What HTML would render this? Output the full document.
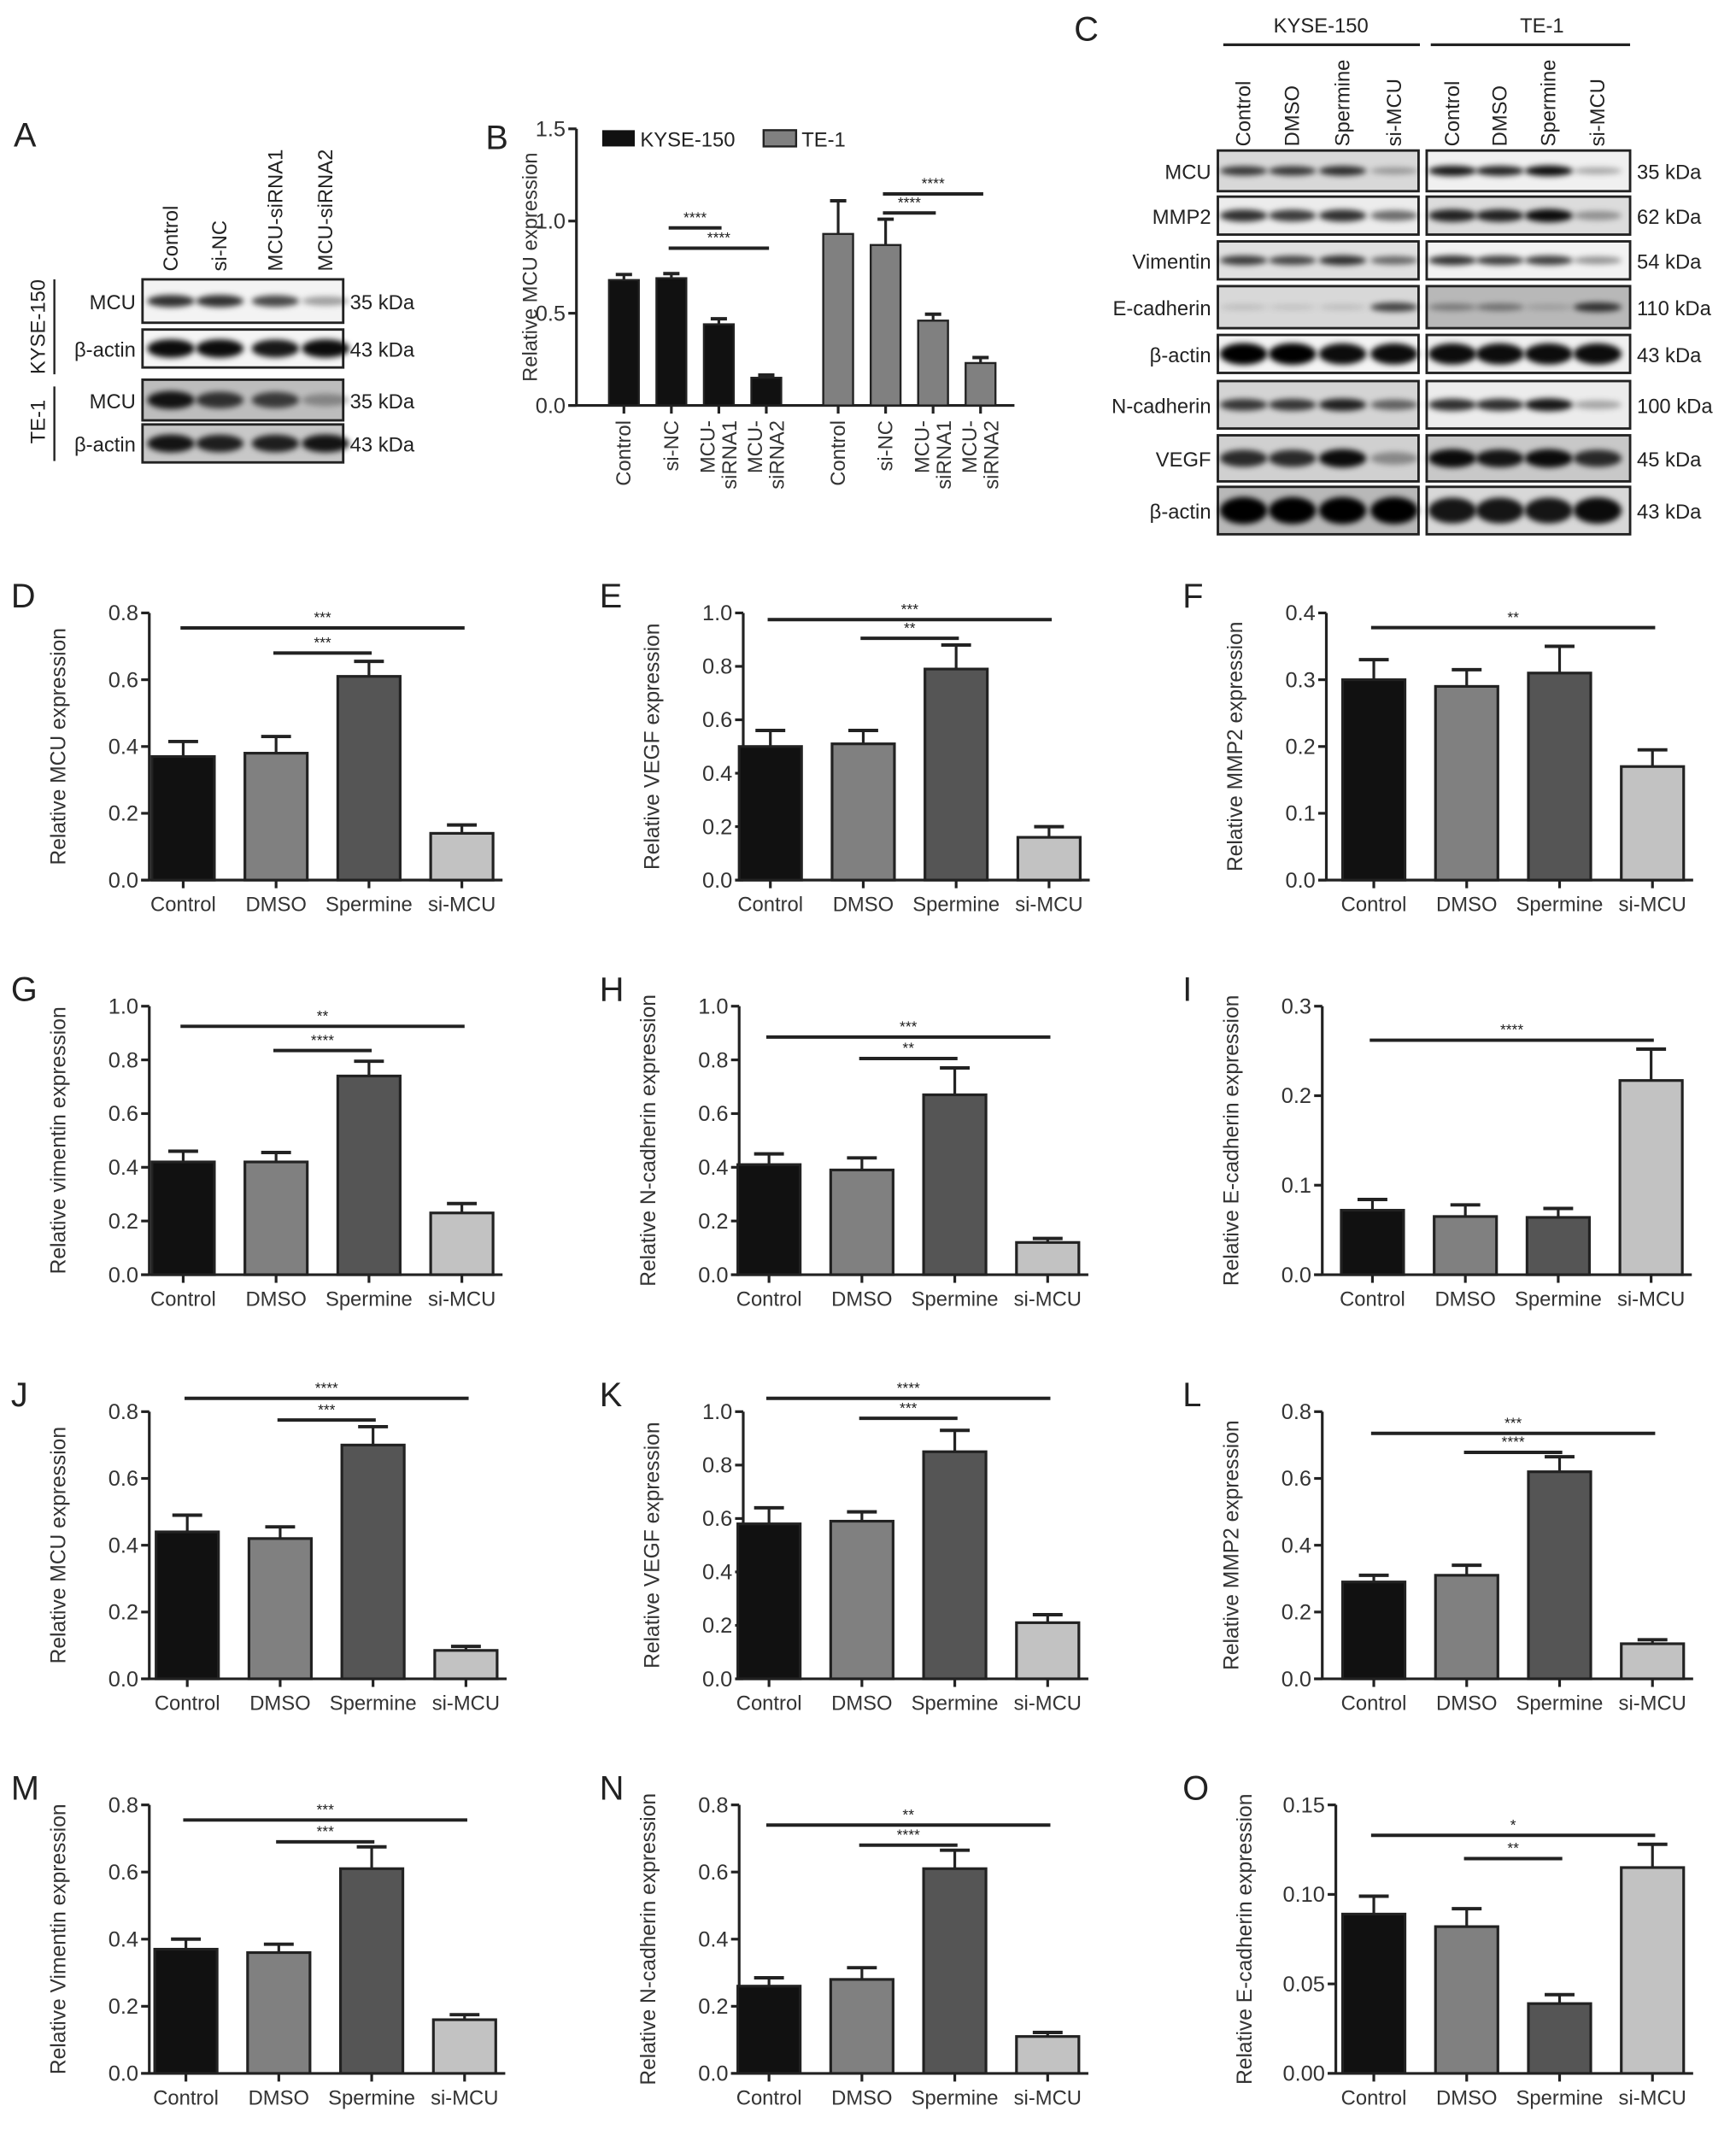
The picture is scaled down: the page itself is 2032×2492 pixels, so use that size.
<!DOCTYPE html>
<html><head><meta charset="utf-8">
<style>
html,body{margin:0;padding:0;background:#fff;}
svg{display:block;font-family:"Liberation Sans",Arial,sans-serif;}
</style></head>
<body>
<svg id="fig" width="2032" height="2492" viewBox="0 0 1280 1570" xmlns="http://www.w3.org/2000/svg">
<defs>
<filter id="blur" x="-30%" y="-100%" width="160%" height="300%"><feGaussianBlur stdDeviation="2.2"/></filter>
</defs>
</svg>
<script>
// ---------- chart data ----------
const categories = ['Control','DMSO','Spermine','si-MCU'];
const colors = ['#111111','#808080','#555555','#c2c2c2'];
const valsD=[0.37,0.38,0.61,0.14], errD=[0.045,0.05,0.045,0.025];
const valsE=[0.50,0.51,0.79,0.16], errE=[0.06,0.05,0.09,0.04];
const valsF=[0.30,0.29,0.31,0.17], errF=[0.03,0.025,0.04,0.025];
const valsG=[0.42,0.42,0.74,0.23], errG=[0.04,0.035,0.055,0.035];
const valsH=[0.41,0.39,0.67,0.12], errH=[0.04,0.045,0.10,0.015];
const valsI=[0.072,0.065,0.064,0.217], errI=[0.012,0.013,0.010,0.035];
const valsJ=[0.44,0.42,0.70,0.085], errJ=[0.05,0.035,0.055,0.012];
const valsK=[0.58,0.59,0.85,0.21], errK=[0.06,0.035,0.08,0.03];
const valsL=[0.29,0.31,0.62,0.105], errL=[0.02,0.03,0.045,0.012];
const valsM=[0.37,0.36,0.61,0.16], errM=[0.03,0.025,0.065,0.015];
const valsN=[0.26,0.28,0.61,0.11], errN=[0.025,0.035,0.055,0.012];
const valsO=[0.089,0.082,0.039,0.115], errO=[0.01,0.01,0.005,0.013];
const ticks08=['0.0','0.2','0.4','0.6','0.8'];
const ticks10=['0.0','0.2','0.4','0.6','0.8','1.0'];
const ticks04=['0.0','0.1','0.2','0.3','0.4'];
const ticks03=['0.0','0.1','0.2','0.3'];
const ticks015=['0.00','0.05','0.10','0.15'];
// panel B
const bCategories=['Control','si-NC','MCU-siRNA1','MCU-siRNA2'];
const bKyse=[0.68,0.69,0.44,0.15], bKyseErr=[0.03,0.025,0.03,0.015];
const bTe1=[0.93,0.87,0.46,0.23], bTe1Err=[0.18,0.14,0.035,0.03];
const bTicks=['0.0','0.5','1.0','1.5'];

const NS='http://www.w3.org/2000/svg';
const svg=document.getElementById('fig');
function el(tag,attrs,parent,text){
  const e=document.createElementNS(NS,tag);
  for(const k in attrs) e.setAttribute(k,attrs[k]);
  if(text!==undefined) e.textContent=text;
  (parent||svg).appendChild(e);
  return e;
}

function chart(o){
  const g=el('g',{});
  
  
  const maxV=parseFloat(o.ticks[o.ticks.length-1]);
  const y=v=>o.y0-(v/maxV)*(o.y0-o.yTop);
  const x=i=>o.first+i*68.5;
  const L=el('text',{x:o.lx,y:o.yTop-4,'font-size':25,fill:'#222'},g,o.id.toUpperCase());
  
  
  const ya=el('line',{x1:o.ax,y1:o.yTop,x2:o.ax,y2:o.y0,stroke:'#222','stroke-width':2},g);
  
  
  o.ticks.forEach((t,i)=>{
    const v=parseFloat(t);
    el('line',{x1:o.ax-6,y1:y(v),x2:o.ax,y2:y(v),stroke:'#222','stroke-width':2},g);
    const tl=el('text',{x:o.ax-8,y:y(v)+5.5,'font-size':16,'text-anchor':'end',fill:'#333'},g,t);
    
    
  });
  const xa=el('line',{x1:o.ax-6,y1:o.y0,x2:o.first+3*68.5+30,y2:o.y0,stroke:'#222','stroke-width':2},g);
  
  
  const yt=el('text',{x:0,y:0,'font-size':15.5,'text-anchor':'middle',fill:'#333',transform:`translate(${o.ax-62},${(o.y0+o.yTop)/2}) rotate(-90)`},g,o.ylabel);
  
  
  o.vals.forEach((v,i)=>{
    const cx=x(i), top=y(v), eTop=y(v+o.errs[i]);
    el('line',{x1:cx,y1:top,x2:cx,y2:eTop,stroke:'#222','stroke-width':2},g);
    el('line',{x1:cx-11,y1:eTop,x2:cx+11,y2:eTop,stroke:'#222','stroke-width':2.5},g);
    const b=el('rect',{x:cx-23,y:top,width:46,height:o.y0-top,fill:colors[i],stroke:'#222','stroke-width':2},g);
    
    
    el('line',{x1:cx,y1:o.y0,x2:cx,y2:o.y0+6,stroke:'#222','stroke-width':2},g);
    const xl=el('text',{x:cx,y:o.y0+23,'font-size':15,'text-anchor':'middle',fill:'#333'},g,categories[i]);
    
    
  });
  o.br.forEach(b=>{
    const yy=y(b[2]);
    const ln=el('line',{x1:x(b[0])-2,y1:yy,x2:x(b[1])+2,y2:yy,stroke:'#222','stroke-width':2.5},g);
    
    
    el('text',{x:(x(b[0])+x(b[1]))/2,y:yy-4,'font-size':11,'text-anchor':'middle',fill:'#222'},g,b[3]);
  });
}
const R1={yTop:452,y0:649}, R2={yTop:742,y0:940}, R3={yTop:1041,y0:1238}, R4={yTop:1331,y0:1529};
chart(Object.assign({id:'d',ax:110,first:135,lx:8,ticks:ticks08,vals:valsD,errs:errD,ylabel:'Relative MCU expression',br:[[0,3,0.755,'***'],[1,2,0.68,'***']]},R1));
chart(Object.assign({id:'e',ax:548,first:568,lx:442,ticks:ticks10,vals:valsE,errs:errE,ylabel:'Relative VEGF expression',br:[[0,3,0.975,'***'],[1,2,0.905,'**']]},R1));
chart(Object.assign({id:'f',ax:978,first:1013,lx:872,ticks:ticks04,vals:valsF,errs:errF,ylabel:'Relative MMP2 expression',br:[[0,3,0.378,'**']]},R1));
chart(Object.assign({id:'g',ax:110,first:135,lx:8,ticks:ticks10,vals:valsG,errs:errG,ylabel:'Relative vimentin expression',br:[[0,3,0.925,'**'],[1,2,0.835,'****']]},R2));
chart(Object.assign({id:'h',ax:545,first:567,lx:442,ticks:ticks10,vals:valsH,errs:errH,ylabel:'Relative N-cadherin expression',br:[[0,3,0.885,'***'],[1,2,0.805,'**']]},R2));
chart(Object.assign({id:'i',ax:975,first:1012,lx:872,ticks:ticks03,vals:valsI,errs:errI,ylabel:'Relative E-cadherin expression',br:[[0,3,0.262,'****']]},R2));
chart(Object.assign({id:'j',ax:110,first:138,lx:8,ticks:ticks08,vals:valsJ,errs:errJ,ylabel:'Relative MCU expression',br:[[0,3,0.84,'****'],[1,2,0.775,'***']]},R3));
chart(Object.assign({id:'k',ax:548,first:567,lx:442,ticks:ticks10,vals:valsK,errs:errK,ylabel:'Relative VEGF expression',br:[[0,3,1.05,'****'],[1,2,0.975,'***']]},R3));
chart(Object.assign({id:'l',ax:975,first:1013,lx:872,ticks:ticks08,vals:valsL,errs:errL,ylabel:'Relative MMP2 expression',br:[[0,3,0.735,'***'],[1,2,0.678,'****']]},R3));
chart(Object.assign({id:'m',ax:110,first:137,lx:8,ticks:ticks08,vals:valsM,errs:errM,ylabel:'Relative Vimentin expression',br:[[0,3,0.755,'***'],[1,2,0.69,'***']]},R4));
chart(Object.assign({id:'n',ax:545,first:567,lx:442,ticks:ticks08,vals:valsN,errs:errN,ylabel:'Relative N-cadherin expression',br:[[0,3,0.74,'**'],[1,2,0.68,'****']]},R4));
chart(Object.assign({id:'o',ax:985,first:1013,lx:872,ticks:ticks015,vals:valsO,errs:errO,ylabel:'Relative E-cadherin expression',br:[[0,3,0.133,'*'],[1,2,0.12,'**']]},R4));

// ---------- panel B ----------
(function(){
  const g=el('g',{});
  
  
  const ax=425,y0=299,yTop=95,maxV=1.5;
  const y=v=>y0-(v/maxV)*(y0-yTop);
  const xk=i=>460+i*35, xt=i=>618+i*35;
  const L=el('text',{x:358,y:110,'font-size':25,fill:'#222'},g,'B');
  
  
  el('line',{x1:ax,y1:yTop,x2:ax,y2:y0,stroke:'#222','stroke-width':2},g);
  bTicks.forEach(t=>{const v=parseFloat(t);
    el('line',{x1:ax-6,y1:y(v),x2:ax,y2:y(v),stroke:'#222','stroke-width':2},g);
    el('text',{x:ax-8,y:y(v)+5.5,'font-size':16,'text-anchor':'end',fill:'#333'},g,t);});
  el('line',{x1:ax-6,y1:y0,x2:748,y2:y0,stroke:'#222','stroke-width':2},g);
  el('text',{x:0,y:0,'font-size':15,'text-anchor':'middle',fill:'#333',transform:`translate(396,${(y0+yTop)/2}) rotate(-90)`},g,'Relative MCU expression');
  function bars(vals,errs,xf,fill,name){
    vals.forEach((v,i)=>{
      const cx=xf(i),top=y(v),eTop=y(v+errs[i]);
      el('line',{x1:cx,y1:top,x2:cx,y2:eTop,stroke:'#222','stroke-width':2},g);
      el('line',{x1:cx-6,y1:eTop,x2:cx+6,y2:eTop,stroke:'#222','stroke-width':2.5},g);
      const b=el('rect',{x:cx-11,y:top,width:22,height:y0-top,fill:fill,stroke:'#222','stroke-width':1.5},g);
      
      
      el('line',{x1:cx,y1:y0,x2:cx,y2:y0+6,stroke:'#222','stroke-width':2},g);
      const lab=bCategories[i];
      const t=el('text',{x:0,y:0,'font-size':15,'text-anchor':'end',fill:'#333',transform:`translate(${cx+5},310) rotate(-90)`},g);
      if(lab.indexOf('MCU-')===0){
        el('tspan',{x:0,dy:-8},t,'MCU-');
        el('tspan',{x:0,dy:16},t,lab.slice(4));
      } else t.textContent=lab;
    });
  }
  bars(bKyse,bKyseErr,xk,'#111','kyse150');
  bars(bTe1,bTe1Err,xt,'#808080','te1');
  [[xk,1,2,0.963],[xk,1,3,0.853],[xt,1,3,1.147],[xt,1,2,1.044]].forEach(b=>{
    const yy=y(b[3]);
    el('line',{x1:b[0](b[1])-2,y1:yy,x2:b[0](b[2])+2,y2:yy,stroke:'#222','stroke-width':2.5},g);
    el('text',{x:(b[0](b[1])+b[0](b[2]))/2,y:yy-4,'font-size':11,'text-anchor':'middle',fill:'#222'},g,'****');
  });
  const l1=el('rect',{x:444,y:96,width:24,height:12,fill:'#111'},g);
  
  
  el('text',{x:472,y:108,'font-size':15,fill:'#222'},g,'KYSE-150');
  const l2=el('rect',{x:563,y:96,width:24,height:12,fill:'#808080',stroke:'#222','stroke-width':1.5},g);
  
  
  el('text',{x:591,y:108,'font-size':15,fill:'#222'},g,'TE-1');
})();

// ---------- blots ----------
function blot(x,y,w,h,lanes,intens,bg,bh,name){
  const g=el('g',{});
  
  
  el('rect',{x:x,y:y,width:w,height:h,fill:bg,stroke:'#222','stroke-width':1.8},g);
  lanes.forEach((cx,i)=>{
    el('ellipse',{cx:cx,cy:y+h/2,rx:(w/lanes.length)/2-1,ry:bh*(0.5+0.5*intens[i]),fill:'#000','fill-opacity':intens[i],filter:'url(#blur)'},g);
  });
}
// Panel A
el('text',{x:10,y:108,'font-size':25,fill:'#222'},svg,'A');
const aLanes=[126,162,203,240];
['Control','si-NC','MCU-siRNA1','MCU-siRNA2'].forEach((t,i)=>{
  el('text',{x:0,y:0,'font-size':15,fill:'#222',transform:`translate(${aLanes[i]+5},200) rotate(-90)`},svg,t);
});
const aRows=[[206,240,'MCU','35 kDa',[0.8,0.8,0.7,0.35],'#f3f3f3',5],[243,273,'β-actin','43 kDa',[0.95,0.95,0.9,0.95],'#f5f5f5',7],[280,312,'MCU','35 kDa',[0.9,0.75,0.7,0.3],'#bdbdbd',7],[313,343,'β-actin','43 kDa',[0.9,0.85,0.85,0.9],'#c8c8c8',7]];
aRows.forEach(r=>{
  blot(105,r[0],148,r[1]-r[0]-2,aLanes,r[4],r[5],r[6],'blot-a-'+r[2]);
  el('text',{x:100,y:(r[0]+r[1])/2+5,'font-size':15,'text-anchor':'end',fill:'#222'},svg,r[2]);
  el('text',{x:258,y:(r[0]+r[1])/2+5,'font-size':15,fill:'#222'},svg,r[3]);
});
el('text',{x:0,y:0,'font-size':15,'text-anchor':'middle',fill:'#222',transform:'translate(33,241) rotate(-90)'},svg,'KYSE-150');
el('line',{x1:40,y1:206,x2:40,y2:276,stroke:'#222','stroke-width':1.5});
el('text',{x:0,y:0,'font-size':15,'text-anchor':'middle',fill:'#222',transform:'translate(33,311) rotate(-90)'},svg,'TE-1');
el('line',{x1:40,y1:285,x2:40,y2:340,stroke:'#222','stroke-width':1.5});

// Panel C
el('text',{x:792,y:30,'font-size':25,fill:'#222'},svg,'C');
el('text',{x:974,y:24,'font-size':15,'text-anchor':'middle',fill:'#222'},svg,'KYSE-150');
el('line',{x1:902,y1:33,x2:1047,y2:33,stroke:'#222','stroke-width':2});
el('text',{x:1137,y:24,'font-size':15,'text-anchor':'middle',fill:'#222'},svg,'TE-1');
el('line',{x1:1055,y1:33,x2:1202,y2:33,stroke:'#222','stroke-width':2});
const cL=[917,953,990,1028], cR=[1071,1106,1142,1178];
categories.forEach((t,i)=>{
  el('text',{x:0,y:0,'font-size':15,fill:'#222',transform:`translate(${cL[i]+5},108) rotate(-90)`},svg,t);
  el('text',{x:0,y:0,'font-size':15,fill:'#222',transform:`translate(${cR[i]+5},108) rotate(-90)`},svg,t);
});
const cRows=[
 [111,143,'MCU','35 kDa',[0.75,0.75,0.8,0.3],[0.9,0.85,0.95,0.3],'#d8d8d8','#f0f0f0',4],
 [145,175,'MMP2','62 kDa',[0.8,0.75,0.8,0.55],[0.85,0.85,0.95,0.35],'#ececec','#dcdcdc',5],
 [178,208,'Vimentin','54 kDa',[0.75,0.7,0.8,0.55],[0.8,0.75,0.75,0.4],'#e0e0e0','#f2f2f2',4],
 [211,244,'E-cadherin','110 kDa',[0.12,0.1,0.12,0.7],[0.35,0.4,0.15,0.75],'#d8d8d8','#b8b8b8',4],
 [247,277,'β-actin','43 kDa',[1,1,0.95,0.95],[0.95,0.95,0.95,0.95],'#f4f4f4','#f0f0f0',8],
 [281,318,'N-cadherin','100 kDa',[0.75,0.75,0.85,0.55],[0.8,0.8,0.9,0.3],'#d4d4d4','#ececec',5],
 [321,357,'VEGF','45 kDa',[0.8,0.8,0.95,0.35],[0.95,0.9,0.95,0.8],'#d0d0d0','#c8c8c8',7],
 [359,396,'β-actin','43 kDa',[1,1,1,1],[0.9,0.9,0.9,0.95],'#b8b8b8','#d8d8d8',10]];
cRows.forEach(r=>{
  blot(898,r[0],148,r[1]-r[0]-2,cL,r[4],r[6],r[8],'blot-c-kyse-'+r[2]);
  blot(1052,r[0],150,r[1]-r[0]-2,cR,r[5],r[7],r[8],'blot-c-te1-'+r[2]);
  el('text',{x:893,y:(r[0]+r[1])/2+5,'font-size':15,'text-anchor':'end',fill:'#222'},svg,r[2]);
  el('text',{x:1207,y:(r[0]+r[1])/2+5,'font-size':15,fill:'#222'},svg,r[3]);
});
</script>
</body></html>
